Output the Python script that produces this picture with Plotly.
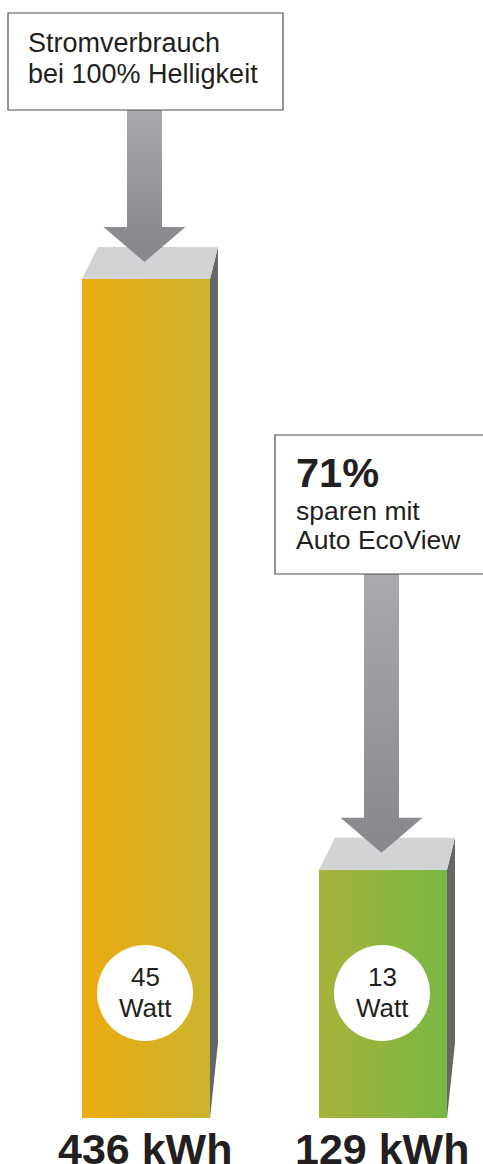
import plotly.graph_objects as go

# ---------------- data ----------------
kwh = [436, 129]                      # energy consumption per year
watts = [45, 13]                      # power draw
unit = "kWh"
watt_unit = "Watt"
box1_lines = ["Stromverbrauch", "bei 100% Helligkeit"]
box2_lines = ["sparen mit", "Auto EcoView"]
front_colors = [("#ECAB12", "#CCB32C"), ("#A8B23A", "#77B843")]

# ---------------- layout constants (pixels) ----------------
W, H = 483, 1164
X0_PX, DX_PX = 146, 237          # centre of first bar, spacing between bars
BASE_PX, TOP_PX = 1118, 279      # pixel row of 0 and of the largest value
S = (BASE_PX - TOP_PX) / max(kwh)

def xd(px):
    return (px - X0_PX) / DX_PX

def yd(py):
    return (BASE_PX - py) / S

def dxd(p):
    return p / DX_PX

def dyd(p):
    return p / S

TXT = "#231F20"
FONT = "Liberation Sans, Arial, Helvetica, sans-serif"
TOPFACE = "#D1D3D4"
SIDE = "#676769"

fig = go.Figure()

HALF = 64
DEPTH = 32
for i, v in enumerate(kwh):
    c0, c1 = front_colors[i]
    # front face
    fig.add_trace(go.Scatter(
        x=[i - dxd(HALF), i + dxd(HALF), i + dxd(HALF), i - dxd(HALF), i - dxd(HALF)],
        y=[0, 0, v, v, 0],
        mode="lines", fill="toself", line=dict(width=0, color="rgba(0,0,0,0)"),
        fillgradient=dict(type="horizontal", colorscale=[[0, c0], [1, c1]]),
        hoverinfo="skip"))
    # side face
    fig.add_trace(go.Scatter(
        x=[i + dxd(HALF), i + dxd(HALF + 8), i + dxd(HALF + 8), i + dxd(HALF), i + dxd(HALF)],
        y=[v, v + dyd(DEPTH), dyd(75), 0, v],
        mode="lines", fill="toself", fillcolor=SIDE,
        line=dict(width=0, color="rgba(0,0,0,0)"), hoverinfo="skip"))
    # top face
    fig.add_trace(go.Scatter(
        x=[i - dxd(HALF), i + dxd(HALF), i + dxd(HALF + 8), i - dxd(HALF - 16), i - dxd(HALF)],
        y=[v, v, v + dyd(DEPTH), v + dyd(DEPTH), v],
        mode="lines", fill="toself", fillcolor=TOPFACE,
        line=dict(width=0, color="rgba(0,0,0,0)"), hoverinfo="skip"))

# arrows from boxes to bar tops
box_bottom_px = [110, 574]
for i, v in enumerate(kwh):
    cx = i - dxd(1.5)
    tip = v + dyd(17)
    head_top = tip + dyd(35)
    top = yd(box_bottom_px[i])
    sh, hh = dxd(17.5), dxd(41)
    frac = (head_top - tip) / (top - tip)
    fig.add_trace(go.Scatter(
        x=[cx - sh, cx + sh, cx + sh, cx + hh, cx, cx - hh, cx - sh, cx - sh],
        y=[top, top, head_top, head_top, tip, head_top, head_top, top],
        mode="lines", fill="toself", line=dict(width=0, color="rgba(0,0,0,0)"),
        fillgradient=dict(type="vertical", start=tip, stop=top,
                          colorscale=[[0, "#88898D"], [frac, "#8B8C90"], [1, "#A9AAAD"]]),
        hoverinfo="skip"))

# white circles
fig.add_trace(go.Scatter(
    x=[i - dxd(1) for i in range(len(watts))],
    y=[yd(993)] * len(watts),
    mode="markers",
    marker=dict(size=96, color="white", line=dict(width=0)),
    hoverinfo="skip"))

def text_at(text, x, baseline_px, size, bold=False, anchor="left"):
    fig.add_annotation(x=x, y=yd(baseline_px - 0.3465 * size), xref="x", yref="y",
                       text=f"<b>{text}</b>" if bold else text, showarrow=False,
                       xanchor=anchor, yanchor="middle",
                       font=dict(family=FONT, size=size, color=TXT))

for i, w in enumerate(watts):
    text_at(str(w), i - dxd(1), 986, 26, anchor="center")
    text_at(watt_unit, i - dxd(1), 1017, 26, anchor="center")

# bottom labels
for i, v in enumerate(kwh):
    text_at(f"{v} {unit}", i - dxd(1), 1164, 43, bold=True, anchor="center")

# boxes
fig.add_shape(type="rect", xref="x", yref="y", x0=xd(8), x1=xd(283), y0=yd(13), y1=yd(110),
              line=dict(color="#4D4D4F", width=1.2), fillcolor="white", layer="above")
fig.add_shape(type="rect", xref="x", yref="y", x0=xd(275), x1=xd(495), y0=yd(435), y1=yd(574),
              line=dict(color="#4D4D4F", width=1.2), fillcolor="white", layer="above")

text_at(box1_lines[0], xd(26), 52, 27)
text_at(box1_lines[1], xd(26), 83, 27)
saving = round((1 - watts[1] / watts[0]) * 100)
text_at(f"{saving}%", xd(294), 487, 41.5, bold=True)
text_at(box2_lines[0], xd(294), 520, 26.5)
text_at(box2_lines[1], xd(294), 549, 26.5)

fig.update_layout(
    width=W, height=H, margin=dict(l=0, r=0, t=0, b=0),
    paper_bgcolor="white", plot_bgcolor="white", showlegend=False,
    xaxis=dict(range=[xd(0), xd(W)], visible=False, fixedrange=True),
    yaxis=dict(range=[yd(H), yd(0)], visible=False, fixedrange=True),
    hovermode=False,
)

fig.write_html("out.html", config={"displayModeBar": False},
               post_script="document.body.style.margin='0';document.body.style.overflow='hidden';")
